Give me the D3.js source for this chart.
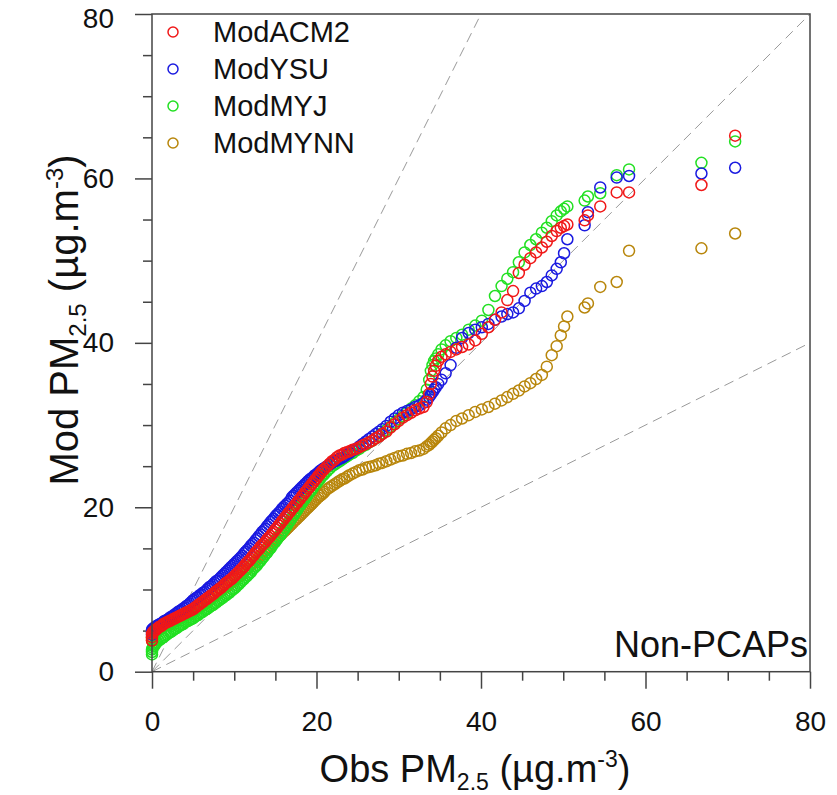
<!DOCTYPE html>
<html>
<head>
<meta charset="utf-8">
<script src="https://cdn.jsdelivr.net/npm/d3@7"></script>
<style>
  body { margin: 0; background: #fff; }
  svg { display: block; font-family: "Liberation Sans", Arial, Helvetica, sans-serif; }
</style>
</head>
<body>
<div id="chart"></div>
<script>
// observed quantiles (shared x of the Q-Q plot)
const obs = [
  0, 0, 0, 0.1, 0.2, 0.3, 0.4, 0.5, 0.6, 0.8,
  1.0, 1.2, 1.4, 1.6, 1.8, 2.0, 2.2, 2.4, 2.6, 2.8,
  3.0, 3.2, 3.4, 3.6, 3.8, 4.0, 4.2, 4.4, 4.6, 4.8,
  5.0, 5.2, 5.4, 5.6, 5.8, 6.0, 6.2, 6.4, 6.6, 6.8,
  7.0, 7.2, 7.4, 7.6, 7.8, 8.0, 8.2, 8.4, 8.6, 8.8,
  9.0, 9.2, 9.4, 9.6, 9.8, 10.0, 10.2, 10.4, 10.6, 10.8,
  11.0, 11.2, 11.4, 11.6, 11.8, 12.0, 12.2, 12.4, 12.6, 12.8,
  13.0, 13.2, 13.4, 13.6, 13.8, 14.0, 14.2, 14.4, 14.6, 14.8,
  15.0, 15.2, 15.4, 15.6, 15.8, 16.0, 16.2, 16.4, 16.6, 16.8,
  17.0, 17.2, 17.4, 17.6, 17.8, 18.0, 18.2, 18.4, 18.6, 18.8,
  19.0, 19.2, 19.4, 19.6, 19.8, 20.0, 20.2, 20.4, 20.6, 20.8,
  21.0, 21.3, 21.6, 21.9, 22.2, 22.5, 22.8, 23.1, 23.4, 23.7,
  24.0, 24.4, 24.8, 25.2, 25.6, 26.0, 26.4, 26.8, 27.2, 27.6,
  28.0, 28.5, 29.0, 29.5, 30.0, 30.5, 31.0, 31.5, 32.0, 32.5,
  33.0, 33.4, 33.7, 33.9, 34.1, 34.3, 34.5, 34.8, 35.2, 35.7,
  36.3, 37.0, 37.7, 38.5, 39.3, 40.1, 40.9, 41.7, 42.5, 43.2,
  43.9, 44.6, 45.3, 46.0, 46.7, 47.4, 48.0, 48.6, 49.2, 49.7,
  50.1, 50.5, 52.6, 53.0, 54.5, 56.5, 58.0, 66.8, 70.9
];

const modACM2 = [
  3.8, 4.2, 4.6, 4.8, 4.9, 5.0, 5.1, 5.1, 5.2, 5.4,
  5.5, 5.6, 5.8, 5.9, 6.0, 6.1, 6.2, 6.3, 6.4, 6.5,
  6.6, 6.7, 6.8, 6.9, 7.0, 7.1, 7.2, 7.3, 7.4, 7.5,
  7.6, 7.8, 7.9, 8.1, 8.2, 8.4, 8.5, 8.7, 8.8, 9.0,
  9.1, 9.3, 9.4, 9.6, 9.8, 9.9, 10.1, 10.2, 10.4, 10.6,
  10.8, 10.9, 11.1, 11.2, 11.4, 11.6, 11.8, 12.0, 12.2, 12.4,
  12.6, 12.8, 13.1, 13.3, 13.5, 13.7, 14.0, 14.2, 14.5, 14.7,
  14.9, 15.2, 15.4, 15.6, 15.8, 16.1, 16.3, 16.5, 16.8, 17.0,
  17.3, 17.5, 17.8, 18.0, 18.3, 18.5, 18.8, 19.0, 19.3, 19.5,
  19.8, 20.0, 20.3, 20.5, 20.8, 21.0, 21.3, 21.5, 21.8, 22.0,
  22.3, 22.5, 22.8, 23.0, 23.3, 23.5, 23.8, 24.0, 24.3, 24.5,
  24.7, 25.0, 25.3, 25.6, 25.8, 26.1, 26.3, 26.4, 26.6, 26.7,
  26.8, 27.0, 27.1, 27.3, 27.5, 27.7, 27.9, 28.1, 28.4, 28.6,
  28.9, 29.2, 29.7, 30.1, 30.5, 30.9, 31.2, 31.5, 31.8, 32.0,
  32.2, 32.8, 33.8, 35.0, 35.9, 36.6, 37.2, 37.8, 38.3, 38.6,
  38.9, 39.2, 39.5, 39.8, 40.3, 41.1, 41.9, 42.8, 43.7, 45.2,
  46.3, 48.5, 49.5, 50.3, 51.0, 51.6, 52.3, 53.0, 53.6, 54.0,
  54.2, 54.4, 54.9, 55.5, 56.6, 58.3, 58.3, 59.2, 65.2
];

const modYSU = [
  4.5, 4.8, 5.1, 5.2, 5.3, 5.4, 5.4, 5.5, 5.6, 5.7,
  5.8, 5.9, 6.1, 6.2, 6.3, 6.4, 6.6, 6.7, 6.8, 7.0,
  7.1, 7.3, 7.4, 7.5, 7.7, 7.8, 8.0, 8.1, 8.3, 8.5,
  8.7, 8.8, 9.0, 9.1, 9.3, 9.4, 9.6, 9.7, 9.9, 10.1,
  10.3, 10.4, 10.6, 10.8, 11.0, 11.1, 11.3, 11.5, 11.7, 11.9,
  12.1, 12.3, 12.5, 12.7, 12.9, 13.1, 13.3, 13.5, 13.7, 13.9,
  14.1, 14.4, 14.6, 14.8, 15.0, 15.3, 15.5, 15.7, 16.0, 16.2,
  16.5, 16.7, 17.0, 17.2, 17.4, 17.7, 17.9, 18.2, 18.4, 18.6,
  18.9, 19.1, 19.3, 19.5, 19.8, 20.0, 20.2, 20.4, 20.6, 20.8,
  21.2, 21.4, 21.6, 21.8, 22.0, 22.2, 22.4, 22.6, 22.8, 23.0,
  23.2, 23.4, 23.5, 23.7, 23.9, 24.0, 24.2, 24.4, 24.5, 24.7,
  24.8, 25.0, 25.2, 25.4, 25.6, 25.7, 25.9, 26.0, 26.2, 26.4,
  26.6, 26.9, 27.1, 27.4, 27.7, 28.0, 28.3, 28.6, 28.9, 29.2,
  29.5, 29.9, 30.4, 30.8, 31.2, 31.5, 31.7, 31.9, 32.2, 32.4,
  32.7, 33.1, 33.4, 33.7, 34.0, 34.3, 34.6, 35.0, 35.5, 36.3,
  37.3, 39.4, 40.6, 41.2, 41.6, 41.9, 42.3, 42.8, 43.2, 43.5,
  43.7, 44.2, 45.1, 46.1, 46.6, 46.9, 47.4, 48.2, 49.0, 49.8,
  50.9, 52.6, 54.3, 55.9, 58.9, 60.1, 60.3, 60.6, 61.3
];

const modMYJ = [
  2.1, 2.4, 2.7, 2.9, 3.1, 3.2, 3.4, 3.5, 3.6, 3.8,
  3.9, 4.1, 4.2, 4.4, 4.5, 4.7, 4.8, 4.9, 5.1, 5.2,
  5.3, 5.5, 5.6, 5.7, 5.8, 6.0, 6.1, 6.2, 6.3, 6.4,
  6.5, 6.7, 6.8, 6.9, 7.1, 7.2, 7.3, 7.5, 7.6, 7.7,
  7.9, 8.0, 8.1, 8.3, 8.4, 8.6, 8.7, 8.9, 9.0, 9.2,
  9.3, 9.5, 9.6, 9.8, 10.0, 10.1, 10.3, 10.5, 10.7, 10.9,
  11.1, 11.3, 11.5, 11.7, 11.9, 12.1, 12.4, 12.6, 12.8, 13.0,
  13.3, 13.5, 13.8, 14.0, 14.3, 14.5, 14.8, 15.0, 15.3, 15.6,
  15.8, 16.1, 16.4, 16.6, 16.9, 17.2, 17.5, 17.8, 18.1, 18.4,
  18.7, 19.0, 19.3, 19.6, 19.9, 20.2, 20.5, 20.8, 21.0, 21.3,
  21.6, 21.9, 22.1, 22.4, 22.7, 22.9, 23.2, 23.4, 23.7, 23.9,
  24.1, 24.4, 24.7, 25.0, 25.2, 25.4, 25.6, 25.8, 26.0, 26.2,
  26.4, 26.6, 26.9, 27.1, 27.4, 27.6, 27.9, 28.1, 28.4, 28.7,
  29.0, 29.4, 29.8, 30.3, 30.7, 31.1, 31.5, 32.0, 32.4, 32.9,
  33.4, 34.3, 35.5, 36.6, 37.3, 37.8, 38.1, 38.6, 39.2, 39.7,
  40.2, 40.6, 41.0, 41.6, 42.1, 42.7, 44.0, 45.7, 46.9, 47.8,
  48.6, 49.8, 51.0, 51.9, 52.6, 53.4, 54.0, 54.8, 55.5, 56.0,
  56.3, 56.6, 57.3, 57.8, 58.2, 60.4, 61.1, 61.9, 64.5
];

const modMYNN = [
  3.8, 4.0, 4.2, 4.4, 4.5, 4.6, 4.7, 4.8, 4.9, 5.1,
  5.2, 5.3, 5.5, 5.6, 5.7, 5.8, 5.9, 6.0, 6.1, 6.2,
  6.3, 6.4, 6.5, 6.6, 6.7, 6.8, 6.9, 7.0, 7.1, 7.2,
  7.4, 7.5, 7.6, 7.8, 7.9, 8.1, 8.2, 8.3, 8.5, 8.6,
  8.8, 8.9, 9.1, 9.2, 9.4, 9.5, 9.7, 9.8, 10.0, 10.2,
  10.3, 10.5, 10.6, 10.8, 11.0, 11.1, 11.3, 11.5, 11.6, 11.8,
  12.0, 12.2, 12.4, 12.5, 12.7, 12.9, 13.1, 13.3, 13.5, 13.7,
  13.9, 14.1, 14.3, 14.6, 14.8, 15.0, 15.2, 15.4, 15.6, 15.8,
  16.0, 16.2, 16.4, 16.6, 16.8, 17.0, 17.2, 17.4, 17.6, 17.8,
  18.0, 18.2, 18.4, 18.6, 18.8, 19.0, 19.2, 19.4, 19.6, 19.8,
  20.0, 20.2, 20.4, 20.6, 20.8, 21.0, 21.2, 21.4, 21.5, 21.7,
  21.9, 22.2, 22.4, 22.6, 22.8, 23.0, 23.2, 23.4, 23.5, 23.7,
  23.9, 24.1, 24.3, 24.5, 24.6, 24.8, 24.9, 25.0, 25.1, 25.3,
  25.4, 25.6, 25.8, 26.0, 26.2, 26.3, 26.5, 26.6, 26.8, 26.9,
  27.1, 27.4, 27.6, 27.8, 28.0, 28.2, 28.4, 28.7, 29.1, 29.6,
  30.0, 30.5, 30.8, 31.2, 31.6, 31.9, 32.2, 32.6, 33.0, 33.4,
  33.8, 34.2, 34.7, 35.1, 35.6, 36.1, 37.1, 38.5, 39.6, 40.9,
  42.0, 43.2, 44.3, 44.8, 46.8, 47.4, 51.2, 51.5, 53.3
];

const seriesNames = ['ModACM2', 'ModYSU', 'ModMYJ', 'ModMYNN'];
const seriesValues = [modACM2, modYSU, modMYJ, modMYNN];
const seriesColors = ['#f01818', '#1a1ae0', '#22e022', '#b8860b'];
const majorTicks = [0, 20, 40, 60, 80];
const minorTicks = [5, 10, 15, 25, 30, 35, 45, 50, 55, 65, 70, 75];
const refSlopes = [2, 1, 0.5];   // 2:1, 1:1, 1:2 lines

const width = 837, height = 795;
const margin = {top: 14, right: 27, bottom: 123.3, left: 152};
const innerW = width - margin.left - margin.right;
const innerH = height - margin.top - margin.bottom;

const svg = d3.select('#chart').append('svg')
  .attr('width', width)
  .attr('height', height);

const x = d3.scaleLinear().domain([0, 80]).range([margin.left, margin.left + innerW]);
const y = d3.scaleLinear().domain([0, 80]).range([margin.top + innerH, margin.top]);

const axisColor = '#444';

// minor ticks
svg.append('g')
  .attr('transform', `translate(0,${y(0)})`)
  .call(d3.axisBottom(x).tickValues(minorTicks).tickSize(9).tickFormat(''))
  .call(g => g.select('.domain').remove());
svg.append('g')
  .attr('transform', `translate(${x(0)},0)`)
  .call(d3.axisLeft(y).tickValues(minorTicks).tickSize(9).tickFormat(''))
  .call(g => g.select('.domain').remove());

// major ticks + labels
svg.append('g')
  .attr('transform', `translate(0,${y(0)})`)
  .call(d3.axisBottom(x).tickValues(majorTicks).tickSize(17).tickPadding(22).tickFormat(d3.format('d')))
  .call(g => g.select('.domain').remove());
const yAxisG = svg.append('g')
  .attr('transform', `translate(${x(0)},0)`)
  .call(d3.axisLeft(y).tickValues(majorTicks).tickSize(17).tickPadding(21).tickFormat(d3.format('d')))
  .call(g => g.select('.domain').remove());

// top label sits a little lower, clear of the page edge
yAxisG.selectAll('.tick text').attr('dy', d => d === 80 ? '0.47em' : '0.32em');

svg.selectAll('.tick line').attr('stroke', axisColor).attr('stroke-width', 1.5);
svg.selectAll('.tick text')
  .attr('fill', '#111')
  .style('font-size', '28px')
  .style('font-family', '"Liberation Sans", Arial, sans-serif');

// reference lines
svg.append('g').selectAll('line')
  .data(refSlopes)
  .join('line')
  .attr('x1', x(0))
  .attr('y1', y(0))
  .attr('x2', d => x(d >= 1 ? 80 / d : 80))
  .attr('y2', d => y(d >= 1 ? 80 : 80 * d))
  .attr('stroke', '#9a9a9a')
  .attr('stroke-width', 1)
  .attr('stroke-dasharray', '10,6');

// points, MYNN drawn first so ACM2 ends on top
const order = [3, 2, 1, 0];
order.forEach(i => {
  svg.append('g').selectAll('circle')
    .data(obs.map((o, k) => [o, seriesValues[i][k]]))
    .join('circle')
    .attr('cx', d => x(d[0]))
    .attr('cy', d => y(d[1]))
    .attr('r', 5.5)
    .attr('fill', 'none')
    .attr('stroke', seriesColors[i])
    .attr('stroke-width', 1.5);
});

// frame
svg.append('rect')
  .attr('x', x(0))
  .attr('y', y(80))
  .attr('width', x(80) - x(0))
  .attr('height', y(0) - y(80))
  .attr('fill', 'none')
  .attr('stroke', axisColor)
  .attr('stroke-width', 1.5);

// legend
const legend = svg.append('g');
seriesNames.forEach((name, i) => {
  const ly = 32 + i * 37;
  legend.append('circle')
    .attr('cx', 173).attr('cy', ly).attr('r', 5)
    .attr('fill', 'none')
    .attr('stroke', seriesColors[i])
    .attr('stroke-width', 1.5);
  legend.append('text')
    .attr('x', 213).attr('y', ly + 10)
    .attr('fill', '#111')
    .style('font-size', '29px')
    .text(name);
});

// panel label
svg.append('text')
  .attr('x', x(80) - 2)
  .attr('y', 657)
  .attr('text-anchor', 'end')
  .attr('fill', '#111')
  .style('font-size', '36px')
  .text('Non-PCAPs');

// axis titles
function pmTitle(sel, prefix, sub) {
  sel.append('tspan').text(prefix + ' PM');
  sel.append('tspan').attr('dy', 8).style('font-size', sub).text('2.5');
  sel.append('tspan').attr('dy', -8).text(' (µg.m');
  sel.append('tspan').attr('dy', -15).style('font-size', sub).text('-3');
  sel.append('tspan').attr('dy', 15).text(')');
}

const xTitle = svg.append('text')
  .attr('x', (x(0) + x(80)) / 2 - 6)
  .attr('y', 782)
  .attr('text-anchor', 'middle')
  .attr('fill', '#111')
  .style('font-size', '38px');
pmTitle(xTitle, 'Obs', '23px');

const yTitle = svg.append('text')
  .attr('transform', `translate(78,${320}) rotate(-90)`)
  .attr('text-anchor', 'middle')
  .attr('fill', '#111')
  .style('font-size', '40px');
pmTitle(yTitle, 'Mod', '24px');
</script>
</body>
</html>
